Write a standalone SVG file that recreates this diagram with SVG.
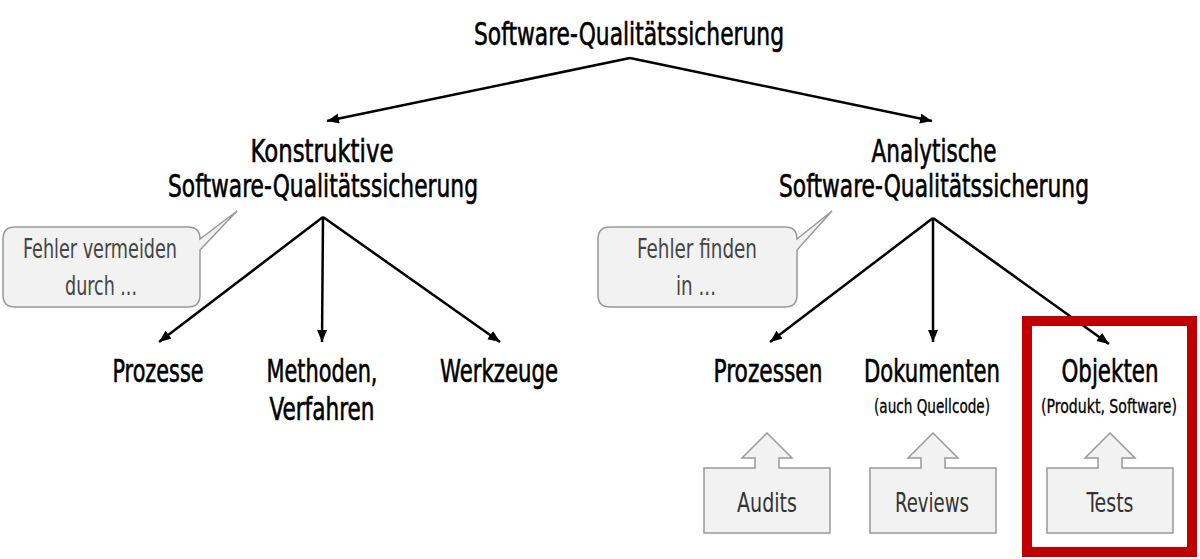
<svg xmlns="http://www.w3.org/2000/svg" width="1200" height="559" viewBox="0 0 1200 559">
<style>
text{font-family:"Liberation Sans Narrow","DejaVu Sans Condensed","Liberation Sans",sans-serif;text-anchor:middle}
.main{font-size:32px;fill:#000;stroke:#000;stroke-width:0.6}
.sub{font-size:20px;fill:#000;stroke:#000;stroke-width:0.3}
.note{font-size:26px;fill:#444}
.box{font-size:27px;fill:#333}
.edge{stroke:#000;stroke-width:2.5;fill:none;marker-end:url(#ah)}
.bubble{fill:#f2f2f2;stroke:#999;stroke-width:1.5}
.src{fill:#f2f2f2;stroke:#999;stroke-width:1.5}
</style>
<defs>
<marker id="ah" markerUnits="userSpaceOnUse" markerWidth="14" markerHeight="12" refX="12" refY="5" orient="auto">
<path d="M0,0 L12,5 L0,10 Z" fill="#000"/>
</marker>
</defs>
<rect width="1200" height="559" fill="#fff"/>
<g id="connectors">
<path class="edge" d="M630,58 L327,121"/>
<path class="edge" d="M630,58 L932,121"/>
<path class="edge" d="M323,217 L159,342"/>
<path class="edge" d="M323,217 L322,342"/>
<path class="edge" d="M323,217 L500,342"/>
<path class="edge" d="M933,218 L770,342"/>
<path class="edge" d="M933,218 L933,342"/>
<path class="edge" d="M933,218 L1109,344"/>
</g>
<g id="root"><text class="main" x="629" y="45" textLength="310" lengthAdjust="spacingAndGlyphs">Software-Qualitätssicherung</text></g>
<g id="konstruktiv">
<text class="main" x="322" y="162" textLength="143" lengthAdjust="spacingAndGlyphs">Konstruktive</text>
<text class="main" x="323" y="197" textLength="310" lengthAdjust="spacingAndGlyphs">Software-Qualitätssicherung</text>
</g>
<g id="analytisch">
<text class="main" x="934" y="162" textLength="125" lengthAdjust="spacingAndGlyphs">Analytische</text>
<text class="main" x="934" y="197" textLength="310" lengthAdjust="spacingAndGlyphs">Software-Qualitätssicherung</text>
</g>
<g id="bubble-left">
<path class="bubble" d="M15,227 H188 Q200,227 200,239 L237,211 L200,250 V295 Q200,307 188,307 H15 Q3,307 3,295 V239 Q3,227 15,227 Z"/>
<text class="note" x="100" y="258" textLength="154" lengthAdjust="spacingAndGlyphs">Fehler vermeiden</text>
<text class="note" x="101" y="295" textLength="72" lengthAdjust="spacingAndGlyphs">durch ...</text>
</g>
<g id="bubble-right">
<path class="bubble" d="M610,227 H785 Q797,227 797,239 L832,211 L797,250 V295 Q797,307 785,307 H610 Q598,307 598,295 V239 Q598,227 610,227 Z"/>
<text class="note" x="697" y="258" textLength="120" lengthAdjust="spacingAndGlyphs">Fehler finden</text>
<text class="note" x="696" y="295" textLength="40" lengthAdjust="spacingAndGlyphs">in ...</text>
</g>
<g id="prozesse"><text class="main" x="158" y="382" textLength="91" lengthAdjust="spacingAndGlyphs">Prozesse</text></g>
<g id="methoden">
<text class="main" x="322" y="382" textLength="111" lengthAdjust="spacingAndGlyphs">Methoden,</text>
<text class="main" x="322" y="420" textLength="105" lengthAdjust="spacingAndGlyphs">Verfahren</text>
</g>
<g id="werkzeuge"><text class="main" x="499" y="382" textLength="118" lengthAdjust="spacingAndGlyphs">Werkzeuge</text></g>
<g id="prozessen"><text class="main" x="768" y="382" textLength="109" lengthAdjust="spacingAndGlyphs">Prozessen</text></g>
<g id="dokumenten">
<text class="main" x="932" y="382" textLength="136" lengthAdjust="spacingAndGlyphs">Dokumenten</text>
<text class="sub" x="932" y="413" textLength="116" lengthAdjust="spacingAndGlyphs">(auch Quellcode)</text>
</g>
<g id="objekten">
<rect x="1027" y="321" width="165" height="231" fill="none" stroke="#c00000" stroke-width="10"/>
<text class="main" x="1110" y="382" textLength="97" lengthAdjust="spacingAndGlyphs">Objekten</text>
<text class="sub" x="1109" y="413" textLength="136" lengthAdjust="spacingAndGlyphs">(Produkt, Software)</text>
</g>
<g id="audits">
<path class="src" d="M704,468 H755 V458 H742 L767,433 L792,458 H779 V468 H830 V533 H704 Z"/>
<text class="box" x="767" y="512" textLength="60" lengthAdjust="spacingAndGlyphs">Audits</text>
</g>
<g id="reviews">
<path class="src" d="M870,468 H921 V458 H908 L933,433 L958,458 H945 V468 H996 V533 H870 Z"/>
<text class="box" x="932" y="512" textLength="74" lengthAdjust="spacingAndGlyphs">Reviews</text>
</g>
<g id="tests">
<path class="src" d="M1047,468 H1098 V458 H1085 L1110,433 L1135,458 H1122 V468 H1173 V533 H1047 Z"/>
<text class="box" x="1110" y="512" textLength="47" lengthAdjust="spacingAndGlyphs">Tests</text>
</g>
</svg>
